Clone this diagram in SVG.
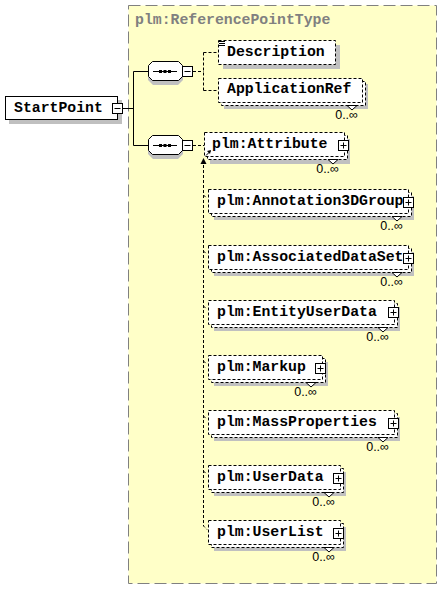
<svg xmlns="http://www.w3.org/2000/svg" width="443" height="589" viewBox="0 0 443 589">
<defs>
<style>
.bg{fill:#ffffff}
.type{fill:#ffffc8;stroke:#808080;stroke-width:1;stroke-dasharray:12 5}
.title{font-family:"Liberation Mono","Courier New",monospace;font-weight:bold;font-size:14.8px;fill:#808080}
.lbl{font-family:"Liberation Mono","Courier New",monospace;font-weight:bold;font-size:14.8px;fill:#000}
.occ{font-family:"Liberation Sans",Arial,sans-serif;font-size:12.5px;fill:#000;text-anchor:end}
.sh{fill:#c0c0c0}
.box{fill:#fff;stroke:#000;stroke-width:1}
.dbox{fill:#fff;stroke:#000;stroke-width:1;stroke-dasharray:3 2}
.ln{fill:none;stroke:#000;stroke-width:1}
.dl{fill:none;stroke:#000;stroke-width:1;stroke-dasharray:3 2}
.notch{fill:#fff;stroke:#000;stroke-width:1}
</style>
<g id="plus">
<rect class="box" x="0.5" y="0.5" width="10" height="10"/>
<path class="ln" d="M2.5 5.5H8.5M5.5 2.5V8.5"/>
</g>
<g id="minus">
<rect class="box" x="0.5" y="0.5" width="10" height="10"/>
<path class="ln" d="M2.5 5.5H8.5"/>
</g>
<g id="seq">
<polygon class="sh" points="156,65 181,65 186,70 186,80 181,85 156,85 151,80 151,70" transform="translate(-3,0)"/>
<polygon class="box" points="152.5,61.5 178.5,61.5 182.5,65.5 182.5,76.5 178.5,80.5 152.5,80.5 148.5,76.5 148.5,65.5"/>
<path class="ln" d="M153 71.5H177"/>
<rect x="159" y="70" width="3" height="3" fill="#000"/>
<rect x="163.5" y="70" width="3" height="3" fill="#000"/>
<rect x="168" y="70" width="3" height="3" fill="#000"/>
<use href="#minus" x="182" y="66"/>
</g>
</defs>
<rect class="bg" x="0" y="0" width="443" height="589"/>

<g id="type-box">
<rect class="type" x="128.5" y="5.5" width="308" height="578"/>
<text class="title" x="135" y="24">plm:ReferencePointType</text>
</g>

<g id="connectors">
<path class="ln" d="M123 108.5H133.5M133.5 71.5V145.5M133.5 71.5H148M133.5 145.5H148"/>
<path class="dl" d="M193 71.5H203.5M203.5 52.5V90.5M203.5 52.5H218M203.5 90.5H218"/>
<path class="dl" d="M193 145.5H204M203.5 160V526L207 529.5"/>
<polygon points="203.5,158 200.5,164 206.5,164" fill="#000"/>
<path class="dl" d="M203.5 195L206.5 198M203.5 251L206.5 254M203.5 306L206.5 309M203.5 361L206.5 364M203.5 416L206.5 419M203.5 471L206.5 474"/>
</g>

<g id="StartPoint">
<rect class="sh" x="9" y="100" width="113" height="24"/>
<rect class="box" x="5.5" y="96.5" width="112" height="23"/>
<text class="lbl" x="14" y="111.5">StartPoint</text>
<use href="#minus" x="112" y="103"/>
</g>

<g id="seq1"><use href="#seq"/></g>
<g id="seq2"><use href="#seq" y="74"/></g>

<g id="Description">
<rect class="sh" x="223" y="45" width="117" height="24"/>
<rect class="dbox" x="218.5" y="40.5" width="117" height="24"/>
<path class="ln" d="M219 41.5H225M219 43.5H225M219 45.5H225"/>
<text class="lbl" x="227" y="56">Description</text>
</g>

<g id="ApplicationRef">
<rect class="sh" x="224" y="84" width="144" height="25"/>
<rect class="dbox" x="221.5" y="81.5" width="144" height="24"/>
<rect class="dbox" x="218.5" y="78.5" width="144" height="24"/>
<polygon class="notch" points="347,105.5 352,110 357,105.5"/>
<text class="lbl" x="227" y="93">ApplicationRef</text>
<text class="occ" x="358" y="119">0..∞</text>
</g>

<g id="Attribute">
<rect class="sh" x="210" y="139" width="140" height="25"/>
<rect class="dbox" x="207.5" y="135.5" width="140" height="24"/>
<rect class="dbox" x="204.5" y="132.5" width="140" height="24"/>
<polygon class="notch" points="328,159.5 333,164 338,159.5"/>
<path class="ln" d="M206 155.5L210.5 151"/>
<polygon points="211,150 207,151 210,154" fill="#000"/>
<text class="lbl" x="212" y="148">plm:Attribute</text>
<use href="#plus" x="338" y="140"/>
<text class="occ" x="339" y="173">0..∞</text>
</g>

<g id="Annotation3DGroup">
<rect class="sh" x="214" y="196" width="200" height="24"/>
<rect class="dbox" x="211.5" y="192.5" width="200" height="24"/>
<rect class="dbox" x="208.5" y="189.5" width="200" height="24"/>
<polygon class="notch" points="392,216.5 397,221 402,216.5"/>
<text class="lbl" x="217" y="205">plm:Annotation3DGroup</text>
<use href="#plus" x="403" y="197"/>
<text class="occ" x="403" y="230">0..∞</text>
</g>

<g id="AssociatedDataSet">
<rect class="sh" x="214" y="252" width="200" height="24"/>
<rect class="dbox" x="211.5" y="248.5" width="200" height="24"/>
<rect class="dbox" x="208.5" y="245.5" width="200" height="24"/>
<polygon class="notch" points="392,272.5 397,277 402,272.5"/>
<text class="lbl" x="217" y="261">plm:AssociatedDataSet</text>
<use href="#plus" x="403" y="253"/>
<text class="occ" x="403" y="286">0..∞</text>
</g>

<g id="EntityUserData">
<rect class="sh" x="214" y="307" width="186" height="24"/>
<rect class="dbox" x="211.5" y="303.5" width="186" height="24"/>
<rect class="dbox" x="208.5" y="300.5" width="186" height="24"/>
<polygon class="notch" points="378,327.5 383,332 388,327.5"/>
<text class="lbl" x="217" y="316">plm:EntityUserData</text>
<use href="#plus" x="388" y="307"/>
<text class="occ" x="389" y="341">0..∞</text>
</g>

<g id="Markup">
<rect class="sh" x="214" y="362" width="114" height="24"/>
<rect class="dbox" x="211.5" y="358.5" width="114" height="24"/>
<rect class="dbox" x="208.5" y="355.5" width="114" height="24"/>
<polygon class="notch" points="306,382.5 311,387 316,382.5"/>
<text class="lbl" x="217" y="371">plm:Markup</text>
<use href="#plus" x="315" y="363"/>
<text class="occ" x="317" y="396">0..∞</text>
</g>

<g id="MassProperties">
<rect class="sh" x="214" y="417" width="186" height="24"/>
<rect class="dbox" x="211.5" y="413.5" width="186" height="24"/>
<rect class="dbox" x="208.5" y="410.5" width="186" height="24"/>
<polygon class="notch" points="378,437.5 383,442 388,437.5"/>
<text class="lbl" x="217" y="426">plm:MassProperties</text>
<use href="#plus" x="388" y="418"/>
<text class="occ" x="389" y="451">0..∞</text>
</g>

<g id="UserData">
<rect class="sh" x="214" y="472" width="132" height="24"/>
<rect class="dbox" x="211.5" y="468.5" width="132" height="24"/>
<rect class="dbox" x="208.5" y="465.5" width="132" height="24"/>
<polygon class="notch" points="324,492.5 329,497 334,492.5"/>
<text class="lbl" x="217" y="481">plm:UserData</text>
<use href="#plus" x="333" y="473"/>
<text class="occ" x="335" y="506">0..∞</text>
</g>

<g id="UserList">
<rect class="sh" x="214" y="527" width="132" height="24"/>
<rect class="dbox" x="211.5" y="523.5" width="132" height="24"/>
<rect class="dbox" x="208.5" y="520.5" width="132" height="24"/>
<polygon class="notch" points="324,547.5 329,552 334,547.5"/>
<text class="lbl" x="217" y="536">plm:UserList</text>
<use href="#plus" x="333" y="528"/>
<text class="occ" x="335" y="561">0..∞</text>
</g>
</svg>
